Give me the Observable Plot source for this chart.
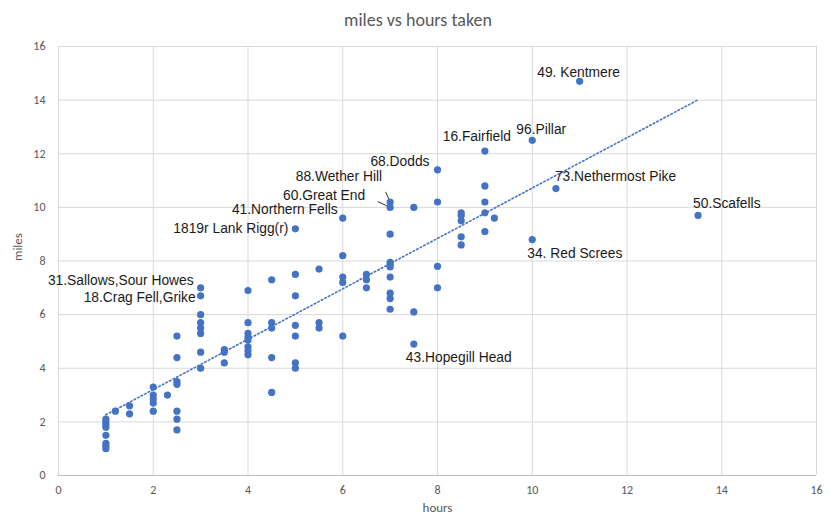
<!DOCTYPE html>
<html>
<head>
<meta charset="utf-8">
<script src="https://cdn.jsdelivr.net/npm/d3@7"></script>
<script src="https://cdn.jsdelivr.net/npm/@observablehq/plot@0.6"></script>
<style>
  html, body { margin: 0; padding: 0; background: #fff; }
  #title { width: 830px; height: 38px; line-height: 40px; text-align: center;
           font-family: Carlito, Lato, "Liberation Sans", sans-serif; font-size: 18px; color: #595959; padding-left: 6px; box-sizing: border-box; }
</style>
</head>
<body>
<div id="title">miles vs hours taken</div>
<div id="chart"></div>
<script>
// ---- data ----
const hours = [
  1, 1, 1, 1, 1, 1, 1, 1,
  1.2,
  1.5, 1.5,
  2, 2, 2, 2, 2,
  2.3,
  2.5, 2.5, 2.5, 2.5, 2.5, 2.5, 2.5,
  3, 3, 3, 3, 3, 3, 3, 3,
  3.5, 3.5, 3.5,
  4, 4, 4, 4, 4, 4, 4, 4,
  4.5, 4.5, 4.5, 4.5, 4.5,
  5, 5, 5, 5, 5, 5, 5,
  5.5, 5.5, 5.5,
  6, 6, 6, 6, 6,
  6.5, 6.5, 6.5,
  7, 7, 7, 7, 7, 7, 7, 7, 7, 7,
  7.5, 7.5, 7.5,
  8, 8, 8, 8,
  8.5, 8.5, 8.5, 8.5, 8.5,
  9, 9, 9, 9, 9,
  9.2,
  10, 10,
  10.5,
  11,
  13.5
];
const miles = [
  2.1, 2.0, 1.9, 1.8, 1.5, 1.2, 1.1, 1.0,
  2.4,
  2.6, 2.3,
  3.3, 3.0, 2.85, 2.7, 2.4,
  3.0,
  5.2, 4.4, 3.5, 3.4, 2.4, 2.1, 1.7,
  7.0, 6.7, 6.0, 5.7, 5.5, 5.3, 4.6, 4.0,
  4.7, 4.6, 4.2,
  6.9, 5.7, 5.3, 5.15, 5.05, 4.8, 4.65, 4.5,
  7.3, 5.7, 5.5, 4.4, 3.1,
  9.2, 7.5, 6.7, 5.6, 5.2, 4.2, 4.0,
  7.7, 5.7, 5.5,
  9.6, 8.2, 7.4, 7.2, 5.2,
  7.5, 7.3, 7.0,
  10.2, 10.0, 9.0, 7.95, 7.87, 7.78, 7.4, 6.8, 6.6, 6.2,
  10.0, 6.1, 4.9,
  11.4, 10.2, 7.8, 7.0,
  9.8, 9.7, 9.5, 8.9, 8.6,
  12.1, 10.8, 10.2, 9.8, 9.1,
  9.6,
  12.5, 8.8,
  10.7,
  14.7,
  9.7
];
const xTicks = [0, 2, 4, 6, 8, 10, 12, 14, 16];
const yTicks = [0, 2, 4, 6, 8, 10, 12, 14, 16];

// labelled walks (data values)
const labelText  = ["1819r Lank Rigg(r)", "41.Northern Fells", "31.Sallows,Sour Howes", "18.Crag Fell,Grike",
                    "88.Wether Hill", "60.Great End", "68.Dodds", "16.Fairfield", "96.Pillar", "49. Kentmere",
                    "73.Nethermost Pike", "50.Scafells", "34. Red Screes", "43.Hopegill Head"];
const labelHours = [5, 6, 3, 3, 7, 7, 8, 9, 10, 11, 10.5, 13.5, 10, 7.5];
const labelMiles = [9.2, 9.6, 7.0, 6.7, 10.2, 10.0, 11.4, 12.1, 12.5, 14.7, 10.7, 9.7, 8.8, 4.9];

// label placement (style only)
const labelPlacement = [
  {anchor: "end",    dx: -7,  dy: 0},
  {anchor: "end",    dx: -5,  dy: -9},
  {anchor: "end",    dx: -7,  dy: -7},
  {anchor: "end",    dx: -5,  dy: 2},
  {anchor: "end",    dx: -8,  dy: -25},
  {anchor: "end",    dx: -25, dy: -12},
  {anchor: "end",    dx: -8,  dy: -8},
  {anchor: "middle", dx: -8,  dy: -14},
  {anchor: "middle", dx: 9,   dy: -11},
  {anchor: "middle", dx: -1,  dy: -9},
  {anchor: "start",  dx: -1,  dy: -12},
  {anchor: "start",  dx: -5,  dy: -12},
  {anchor: "start",  dx: -5,  dy: 14},
  {anchor: "start",  dx: -8,  dy: 13}
];
// leader lines (style only): which label, angle and length in px
const leaders = [
  {label: "88.Wether Hill", rotate: -24, length: 18},
  {label: "60.Great End",   rotate: -65, length: 22}
];

const points = hours.map((h, i) => ({hours: h, miles: miles[i]}));
const labels = labelText.map((t, i) => ({text: t, hours: labelHours[i], miles: labelMiles[i], ...labelPlacement[i]}));
const leaderData = leaders.map(l => {
  const lab = labels.find(d => d.text === l.label);
  return {hours: lab.hours, miles: lab.miles, rotate: l.rotate, length: l.length};
});

const blue = "#4472C4";
const tickFont = "Carlito, Lato, 'Liberation Sans', sans-serif";
const labelFont = "'Liberation Sans', Arial, sans-serif";

const chart = Plot.plot({
  width: 830,
  height: 491,
  marginTop: 8,
  marginBottom: 54,
  marginLeft: 58,
  marginRight: 14,
  style: {background: "#fff", fontFamily: tickFont, color: "#595959"},
  x: {domain: [0, 16], label: null},
  y: {domain: [0, 16], label: null},
  marks: [
    Plot.gridX(xTicks, {stroke: "#d9d9d9", strokeOpacity: 1}),
    Plot.gridY(yTicks, {stroke: "#d9d9d9", strokeOpacity: 1}),
    Plot.ruleY([0], {stroke: "#bfbfbf", strokeWidth: 1}),
    Plot.axisX(xTicks, {tickSize: 0, tickPadding: 10, fontSize: 12, fill: "#595959", label: null, fontFamily: tickFont}),
    Plot.axisY(yTicks, {tickSize: 0, tickPadding: 13, fontSize: 12, fill: "#595959", label: null, fontFamily: tickFont}),
    Plot.text(["hours"], {frameAnchor: "bottom", dy: 36, fontSize: 13, fill: "#595959", fontFamily: tickFont}),
    Plot.text(["miles"], {frameAnchor: "left", dx: -41, rotate: -90, fontSize: 13, fill: "#595959", fontFamily: tickFont}),
    Plot.linearRegressionY(points, {x: "hours", y: "miles", stroke: blue, strokeWidth: 1.6,
      strokeDasharray: "1.6,2.4", ci: 0}),
    Plot.vector(leaderData, {x: "hours", y: "miles", rotate: "rotate", length: "length",
      anchor: "start", r: 0, stroke: "#404040", strokeWidth: 1}),
    Plot.dot(points, {x: "hours", y: "miles", r: 3.6, fill: blue, stroke: "none"}),
    ...labels.map(l => Plot.text([l], {x: "hours", y: "miles", text: "text",
      textAnchor: l.anchor, dx: l.dx, dy: l.dy, fontSize: 13.8, fill: "#1a1a1a", fontFamily: labelFont}))
  ]
});
document.getElementById("chart").appendChild(chart);
</script>
</body>
</html>
